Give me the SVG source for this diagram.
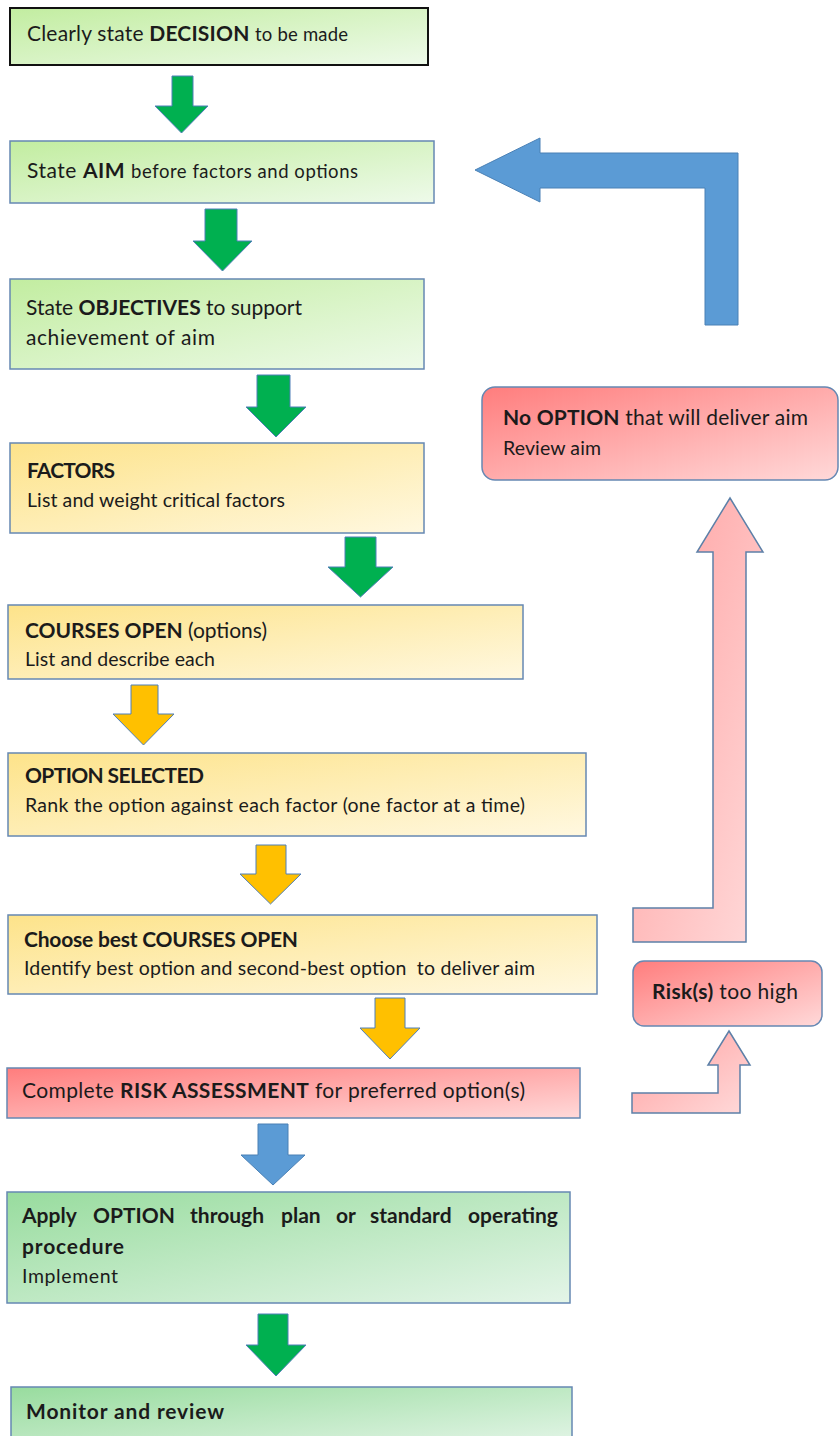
<svg xmlns="http://www.w3.org/2000/svg" width="840" height="1436" viewBox="0 0 840 1436">
  <defs>
    <linearGradient id="gLime" x1="0" y1="0" x2="1" y2="1">
      <stop offset="0" stop-color="#c2eda0"/>
      <stop offset="1" stop-color="#eefaea"/>
    </linearGradient>
    <linearGradient id="gGold" x1="0" y1="0" x2="1" y2="1">
      <stop offset="0" stop-color="#fde38a"/>
      <stop offset="1" stop-color="#fff8e0"/>
    </linearGradient>
    <linearGradient id="gRed" x1="0" y1="0" x2="1" y2="1">
      <stop offset="0" stop-color="#ff7d7d"/>
      <stop offset="1" stop-color="#ffd9d9"/>
    </linearGradient>
    <linearGradient id="gPink" x1="0" y1="0" x2="1" y2="1">
      <stop offset="0" stop-color="#ff9f9f"/>
      <stop offset="1" stop-color="#ffdada"/>
    </linearGradient>
    <linearGradient id="gMint" x1="0" y1="0" x2="1" y2="1">
      <stop offset="0" stop-color="#98dc9e"/>
      <stop offset="1" stop-color="#e4f5e8"/>
    </linearGradient>
  </defs>
  <style>
    text { font-family: Lato, "Open Sans", "Liberation Sans", sans-serif; font-size: 21px; fill: #1b1b1b; }
    .b { font-weight: bold; }
    .s { font-size: 18.5px; }
    .m { font-size: 19.5px; }
    .box { stroke: #6688b3; stroke-width: 1.5; }
    .arr { stroke: #4f7fb8; stroke-width: 1; stroke-linejoin: miter; }
    .green { fill: #00b050; }
    .gold { fill: #ffc000; }
    .blue { fill: #5b9bd5; stroke: #4a80b5; stroke-width: 1; }
    .pink { fill: url(#gPink); stroke: #5d80a8; stroke-width: 1.5; }
  </style>

  <!-- main column -->
  <g id="decision">
    <rect x="10" y="8" width="418" height="57" fill="url(#gLime)" stroke="#111" stroke-width="2"/>
    <text x="27" y="41" textLength="321" lengthAdjust="spacing">Clearly state <tspan class="b">DECISION</tspan> <tspan class="s">to be made</tspan></text>
  </g>
  <g id="aim">
    <rect class="box" x="10" y="141" width="424" height="62" fill="url(#gLime)"/>
    <text x="27" y="178" textLength="331" lengthAdjust="spacing">State <tspan class="b">AIM</tspan> <tspan class="s">before factors and options</tspan></text>
  </g>
  <g id="objectives">
    <rect class="box" x="10" y="279" width="414" height="90" fill="url(#gLime)"/>
    <text x="26" y="315" textLength="276" lengthAdjust="spacing">State <tspan class="b">OBJECTIVES</tspan> to support</text>
    <text x="26" y="345" textLength="189" lengthAdjust="spacing">achievement of aim</text>
  </g>
  <g id="factors">
    <rect class="box" x="10" y="443" width="414" height="90" fill="url(#gGold)"/>
    <text class="b" x="27" y="478" textLength="88" lengthAdjust="spacing">FACTORS</text>
    <text class="m" x="27" y="507" textLength="258" lengthAdjust="spacing">List and weight critical factors</text>
  </g>
  <g id="courses-open">
    <rect class="box" x="8" y="605" width="515" height="74" fill="url(#gGold)"/>
    <text x="25" y="638" textLength="242" lengthAdjust="spacing"><tspan class="b">COURSES OPEN</tspan> (options)</text>
    <text class="m" x="25" y="666" textLength="190" lengthAdjust="spacing">List and describe each</text>
  </g>
  <g id="option-selected">
    <rect class="box" x="8" y="753" width="578" height="83" fill="url(#gGold)"/>
    <text class="b" x="25" y="783" textLength="179" lengthAdjust="spacing">OPTION SELECTED</text>
    <text class="m" x="25" y="812" textLength="500" lengthAdjust="spacing">Rank the option against each factor (one factor at a time)</text>
  </g>
  <g id="choose-best">
    <rect class="box" x="8" y="915" width="589" height="79" fill="url(#gGold)"/>
    <text class="b" x="24" y="947" textLength="274" lengthAdjust="spacing">Choose best COURSES OPEN</text>
    <text class="m" x="24" y="975" textLength="511" lengthAdjust="spacing">Identify best option and second-best option&#160; to deliver aim</text>
  </g>
  <g id="risk-assessment">
    <rect class="box" x="7" y="1068" width="573" height="50" fill="url(#gRed)"/>
    <text x="22" y="1098" textLength="503" lengthAdjust="spacing">Complete <tspan class="b">RISK ASSESSMENT</tspan> for preferred option(s)</text>
  </g>
  <g id="apply-option">
    <rect class="box" x="7" y="1192" width="563" height="111" fill="url(#gMint)"/>
    <!-- justified first line: words placed individually -->
    <text class="b" y="1223"><tspan x="22">Apply</tspan><tspan x="93">OPTION</tspan><tspan x="190">through</tspan><tspan x="281">plan</tspan><tspan x="336">or</tspan><tspan x="370">standard</tspan><tspan x="468">operating</tspan></text>
    <text class="b" x="22" y="1254" textLength="102" lengthAdjust="spacing">procedure</text>
    <text class="m" x="22" y="1283" textLength="96" lengthAdjust="spacing">Implement</text>
  </g>
  <g id="monitor">
    <rect class="box" x="11" y="1387" width="561" height="60" fill="url(#gMint)"/>
    <text class="b" x="26" y="1419" textLength="198" lengthAdjust="spacing">Monitor and review</text>
  </g>

  <!-- side branch -->
  <g id="no-option">
    <rect class="box" x="482" y="387" width="356" height="93" rx="13" fill="url(#gRed)"/>
    <text x="503" y="425" textLength="305" lengthAdjust="spacing"><tspan class="b">No OPTION</tspan> that will deliver aim</text>
    <text class="m" x="503" y="455" textLength="98" lengthAdjust="spacing">Review aim</text>
  </g>
  <g id="risk-too-high">
    <rect class="box" x="633" y="961" width="189" height="65" rx="11" fill="url(#gRed)"/>
    <text x="652" y="999" textLength="146" lengthAdjust="spacing"><tspan class="b">Risk(s)</tspan> too high</text>
  </g>

  <!-- connectors: block arrows -->
  <g id="connectors">
    <polygon class="arr green" points="172,76 193,76 193,106 208,106 181.5,133 155,106 172,106"/>
    <polygon class="arr green" points="205,209 237,209 237,241 252,241 222.5,271 193,241 205,241"/>
    <polygon class="arr green" points="257,375 290,375 290,407 306,407 276,437 246,407 257,407"/>
    <polygon class="arr green" points="345,537 376,537 376,567 393,567 360.5,597 328,567 345,567"/>
    <polygon class="arr gold" points="131,685 158,685 158,714 174,714 143.5,745 113,714 131,714"/>
    <polygon class="arr gold" points="256,845 286,845 286,874 301,874 270.5,904 240,874 256,874"/>
    <polygon class="arr gold" points="375,998 405,998 405,1028 420,1028 390,1059 360,1028 375,1028"/>
    <polygon class="blue" points="258,1124 288,1124 288,1155 305,1155 273,1185 241,1155 258,1155"/>
    <polygon class="arr green" points="258,1314 288,1314 288,1345 306,1345 276,1376 246,1345 258,1345"/>
    <!-- loop back to aim -->
    <polygon class="blue" points="475,170 540,138 540,153 738,153 738,325 705,325 705,188 540,188 540,202"/>
    <!-- escalation arrows -->
    <polygon class="pink" points="730,498 763,552 746,552 746,942 633,942 633,908 713,908 713,552 697,552"/>
    <polygon class="pink" points="729,1031 750,1065 740,1065 740,1113 632,1113 632,1093 718,1093 718,1065 708,1065"/>
  </g>
</svg>
